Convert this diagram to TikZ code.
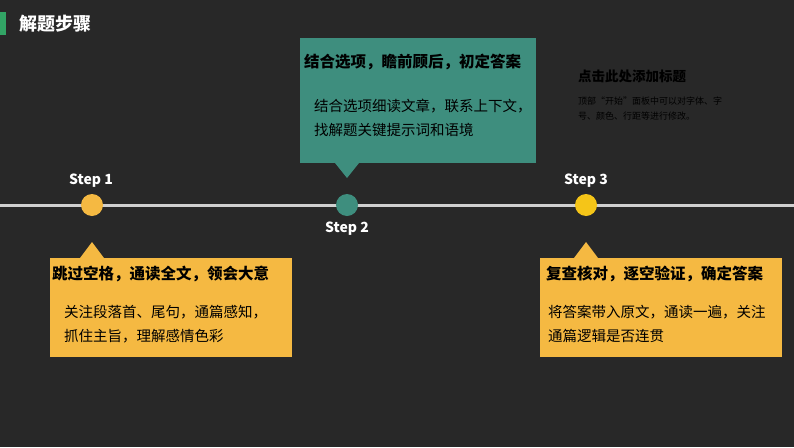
\documentclass[tikz,border=0pt]{standalone}
\usepackage{fontspec}
\newfontfamily\cjk{Noto Sans CJK SC}
\definecolor{bg}{HTML}{282828}
\definecolor{yel}{HTML}{F5B942}
\definecolor{yel2}{HTML}{F5C518}
\definecolor{teal}{HTML}{3E8E7E}
\definecolor{gline}{HTML}{D0D0D0}
\tikzset{
 head/.style={font=\cjk\bfseries\fontsize{15.5}{18}\selectfont,anchor=west,inner sep=0},
 body/.style={font=\cjk\fontsize{14.5}{24}\selectfont,anchor=north west,align=left,inner sep=0},
 dot/.style={circle,minimum size=22pt,inner sep=0},
 steplbl/.style={font=\cjk\bfseries\fontsize{14}{16}\selectfont,text=white}
}
\begin{document}
\begin{tikzpicture}[x=1pt,y=-1pt]
\fill[bg] (0,0) rectangle (794,447);
\useasboundingbox (0,0) rectangle (794,447);
\fill[teal!80!green] (0,12) rectangle (6,35);
\node[anchor=west,text=white,font=\cjk\bfseries\fontsize{18}{20}\selectfont,inner sep=0] (title) at (19,24) {解题步骤};
\draw[gline,line width=3pt] (0,205) coordinate (l0) -- (794,205) coordinate (l1);
% box 1
\fill[yel] (50,258) rectangle (292,357);
\fill[yel] (80,258) -- (92,242) -- (104,258) -- cycle;
\node[head] (h1) at (52,274) {跳过空格，通读全文，领会大意};
\node[body] (b1) at (64,305) {关注段落首、尾句，通篇感知，\\抓住主旨，理解感情色彩};
% box 2
\fill[teal] (300,38) rectangle (536,163);
\fill[teal] (335,163) -- (347,178) -- (359,163) -- cycle;
\node[head,text=black] (h2) at (304,62) {结合选项，瞻前顾后，初定答案};
\node[body] (b2) at (314,99) {结合选项细读文章，联系上下文，\\找解题关键提示词和语境};
% box 3
\fill[yel] (540,258) rectangle (782,357);
\fill[yel] (574,258) -- (586,242) -- (598,258) -- cycle;
\node[head] (h3) at (546,274) {复查核对，逐空验证，确定答案};
\node[body] (b3) at (548,305) {将答案带入原文，通读一遍，关注\\通篇逻辑是否连贯};
% dots
\node[dot,fill=yel] (d1) at (92,205) {};
\node[dot,fill=teal] (d2) at (347,205) {};
\node[dot,fill=yel2] (d3) at (586,205) {};
\node[steplbl] (s1) at (91,181) {Step 1};
\node[steplbl] (s2) at (347,229) {Step 2};
\node[steplbl] (s3) at (586,181) {Step 3};
% placeholder
\node[anchor=west,text=black,font=\cjk\bfseries\fontsize{13.5}{15}\selectfont,inner sep=0] (ph) at (578,76) {点击此处添加标题};
\node[anchor=north west,align=left,text=black,font=\cjk\fontsize{9}{15}\selectfont,inner sep=0] (pb) at (578,97) {顶部“开始”面板中可以对字体、字\\号、颜色、行距等进行修改。};
\end{tikzpicture}
\end{document}
